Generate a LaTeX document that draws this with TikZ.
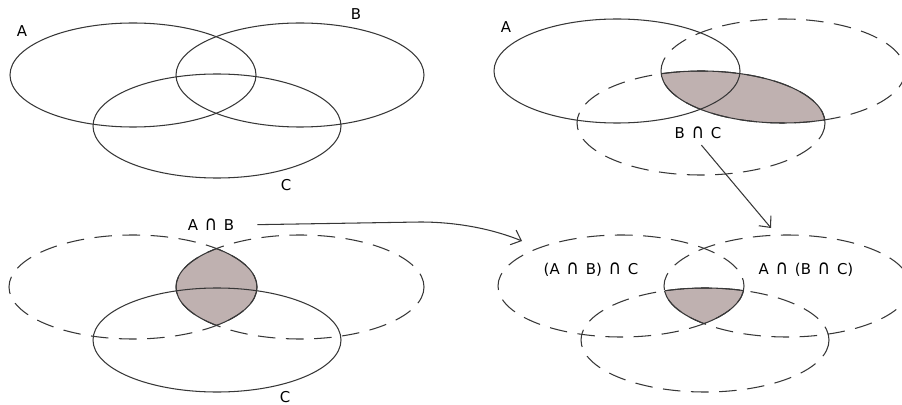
\documentclass[tikz,border=0pt]{standalone}
\usepackage{fontspec}
\usepackage{graphicx}
\setmainfont{DejaVu Sans}
\usetikzlibrary{arrows.meta}
\definecolor{lensfill}{RGB}{191,177,176}
\definecolor{setline}{RGB}{55,55,55}
\newcommand{\isect}{\hskip0.45em\scalebox{1.15}[1.35]{∩}\hskip0.45em}

\begin{document}
\begin{tikzpicture}[
    x=0.02cm, y=-0.02cm,
    % Set outlines
    solidset/.style={
        draw=setline, line width=0.6pt,
    },
    dashset/.style={
        draw=setline, line width=0.6pt,
        dash pattern=on 10pt off 6pt,
    },
    lens/.style={
        fill=lensfill,
    },
    % Labels
    lbl/.style={
        font=\fontsize{8.5}{10}\selectfont, text=black, inner sep=1pt,
    },
    line/.style={
        draw=setline, line width=0.6pt,
        -{Straight Barb[length=5pt, width=9pt]},
    },
]
\useasboundingbox (0,0) rectangle (902,405);

% === Panel 1: A, B, C ===
\draw[solidset] (133,75) ellipse [x radius=123, y radius=52];
\draw[solidset] (300,75) ellipse [x radius=124, y radius=52];
\draw[solidset] (217,126) ellipse [x radius=124, y radius=52];
\node[lbl] (a1) at (22,31)  {A};
\node[lbl] (b1) at (356,14) {B};
\node[lbl] (c1) at (286,185) {C};

% === Panel 2: B n C ===
\begin{scope}
    \clip (783,71) ellipse [x radius=122, y radius=52];
    \fill[lens] (701,123) ellipse [x radius=124, y radius=52];
\end{scope}
\draw[solidset] (617,71) ellipse [x radius=123, y radius=52];
\draw[dashset]  (783,71) ellipse [x radius=122, y radius=52];
\draw[dashset]  (701,123) ellipse [x radius=124, y radius=52];
\begin{scope}
    \clip (701,123) ellipse [x radius=124, y radius=52];
    \draw[solidset] (783,71) ellipse [x radius=122, y radius=52];
\end{scope}
\begin{scope}
    \clip (783,71) ellipse [x radius=122, y radius=52];
    \draw[solidset] (701,123) ellipse [x radius=124, y radius=52];
\end{scope}
\node[lbl] (a2) at (506,27)  {A};
\node[lbl] (bc) at (698,133) {B\isect C};

% === Panel 3: A n B ===
\begin{scope}
    \clip (133,287) ellipse [x radius=124, y radius=52];
    \fill[lens] (300,287) ellipse [x radius=124, y radius=52];
\end{scope}
\draw[dashset]  (133,287) ellipse [x radius=124, y radius=52];
\draw[dashset]  (300,287) ellipse [x radius=124, y radius=52];
\begin{scope}
    \clip (133,287) ellipse [x radius=124, y radius=52];
    \draw[solidset] (300,287) ellipse [x radius=124, y radius=52];
\end{scope}
\begin{scope}
    \clip (300,287) ellipse [x radius=124, y radius=52];
    \draw[solidset] (133,287) ellipse [x radius=124, y radius=52];
\end{scope}
\draw[solidset] (217,340) ellipse [x radius=124, y radius=52];
\node[lbl] (ab) at (211,225) {A\isect B};
\node[lbl] (c3) at (285,397) {C};

% === Panel 4: A n B n C ===
\begin{scope}
    \clip (621,286) ellipse [x radius=123, y radius=51];
    \clip (787,286) ellipse [x radius=123, y radius=51];
    \fill[lens] (705,340) ellipse [x radius=124, y radius=52];
\end{scope}
\draw[dashset] (621,286) ellipse [x radius=123, y radius=51];
\draw[dashset] (787,286) ellipse [x radius=123, y radius=51];
\draw[dashset] (705,340) ellipse [x radius=124, y radius=52];
\begin{scope}
    \clip (621,286) ellipse [x radius=123, y radius=51];
    \clip (787,286) ellipse [x radius=123, y radius=51];
    \draw[solidset] (705,340) ellipse [x radius=124, y radius=52];
\end{scope}
\begin{scope}
    \clip (705,340) ellipse [x radius=124, y radius=52];
    \clip (621,286) ellipse [x radius=123, y radius=51];
    \draw[solidset] (787,286) ellipse [x radius=123, y radius=51];
\end{scope}
\begin{scope}
    \clip (705,340) ellipse [x radius=124, y radius=52];
    \clip (787,286) ellipse [x radius=123, y radius=51];
    \draw[solidset] (621,286) ellipse [x radius=123, y radius=51];
\end{scope}
\node[lbl] (abc1) at (591,270) {(A\isect B)\isect C};
\node[lbl] (abc2) at (806,270) {A\isect (B\isect C)};

% === Arrows ===
\coordinate (tip1) at (522,241);
\coordinate (tip2) at (771,228);
\draw[line, shorten <=12pt] (ab.east) -- (420,222)
    .. controls (460,222) and (495,230) .. (tip1);
\draw[line, shorten <=3pt] (bc.south) -- (tip2);

\end{tikzpicture}
\end{document}
